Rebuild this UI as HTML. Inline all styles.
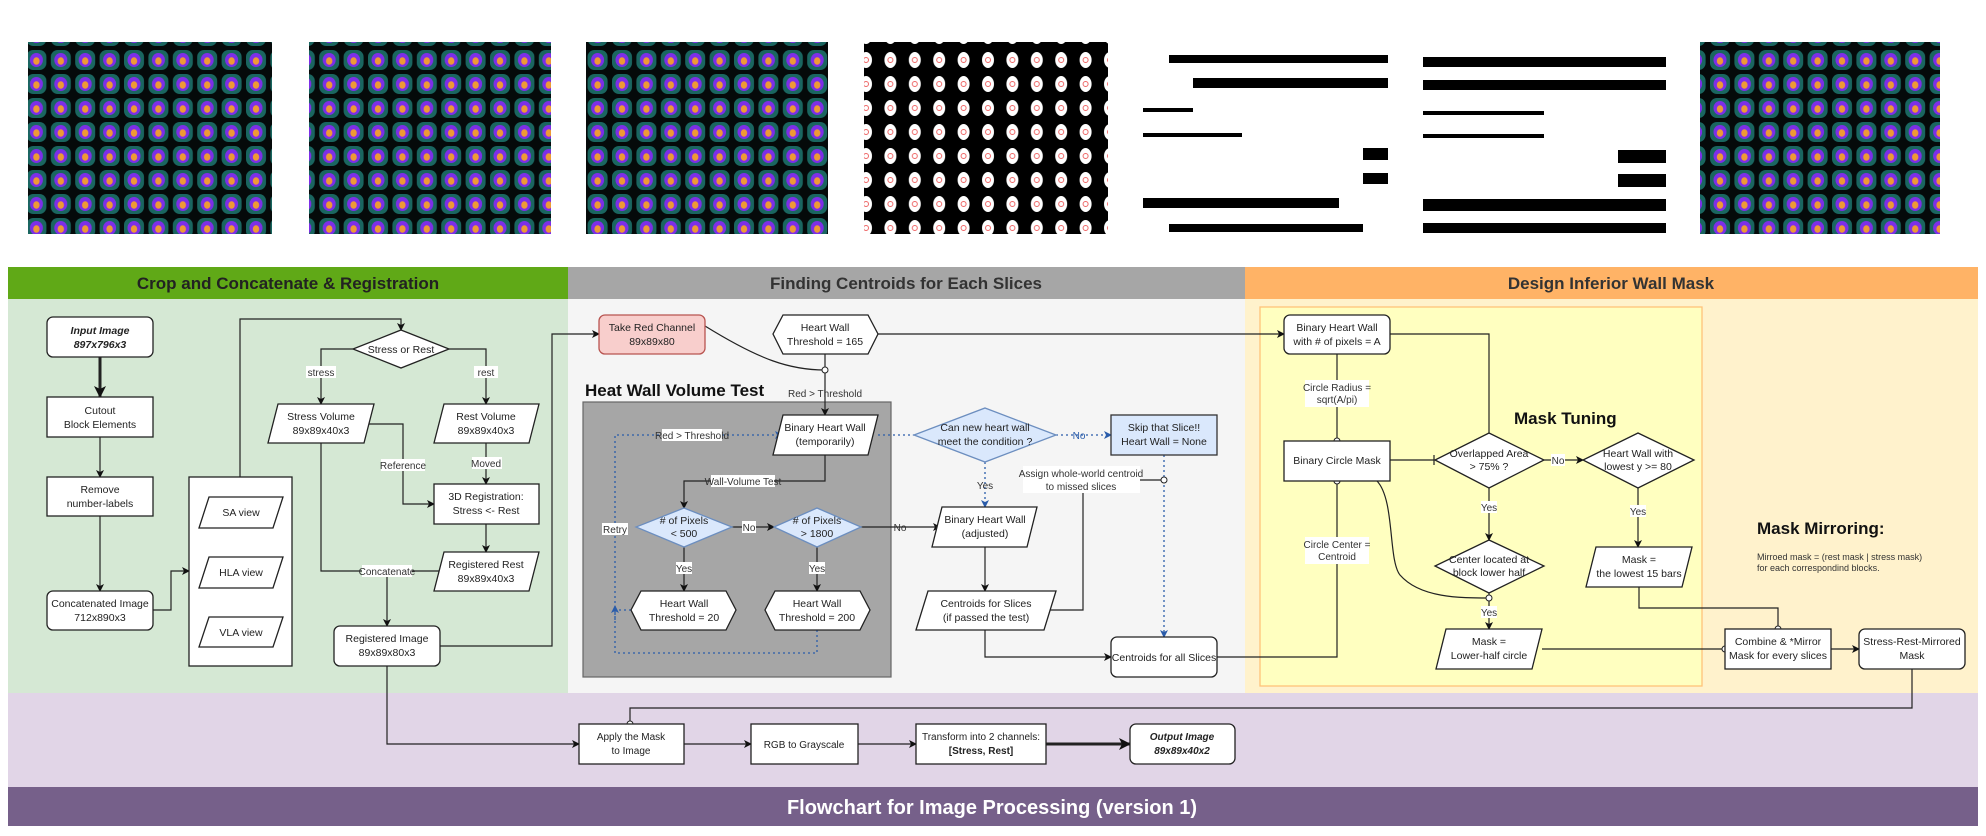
<!DOCTYPE html>
<html><head><meta charset="utf-8"><style>
html,body{margin:0;padding:0;background:#fff;}
svg{display:block;}
text{font-family:"Liberation Sans",sans-serif;}
.t{font-size:10.5px;text-anchor:middle;fill:#222;}
.l{font-size:10px;text-anchor:middle;fill:#333;}
.h{font-size:17px;font-weight:bold;text-anchor:middle;fill:#222;}
.e{fill:none;stroke:#222;stroke-width:1.2;}
.d{fill:none;stroke:#2a5caa;stroke-width:1.3;stroke-dasharray:2,3;}
.n{fill:#fff;stroke:#222;stroke-width:1.3;}
.lb{fill:#fff;}
</style></head><body>
<svg width="1986" height="836" viewBox="0 0 1986 836" xmlns="http://www.w3.org/2000/svg">
<defs>
<marker id="a" markerWidth="8" markerHeight="8" refX="7" refY="4" orient="auto" markerUnits="userSpaceOnUse"><path d="M0,0 L8,4 L0,8 L2,4z" fill="#111"/></marker>
<marker id="ab" markerWidth="8" markerHeight="8" refX="7" refY="4" orient="auto" markerUnits="userSpaceOnUse"><path d="M0,0 L8,4 L0,8 L2,4z" fill="#2a5caa"/></marker>
<marker id="at" markerWidth="12" markerHeight="12" refX="11" refY="6" orient="auto" markerUnits="userSpaceOnUse"><path d="M0,0 L12,6 L0,12 L3,6z" fill="#111"/></marker>
<pattern id="heart" width="24.4" height="24" patternUnits="userSpaceOnUse">
<rect width="24.4" height="24" fill="#050a0a"/><rect x="2" y="2" width="20" height="20" rx="7" fill="#1a6660"/><ellipse cx="12" cy="12" rx="6.5" ry="7" fill="#7d2ee8"/><ellipse cx="12" cy="13" rx="3.2" ry="3.8" fill="#ee9a35"/></pattern>
<pattern id="bin" width="24.4" height="24" patternUnits="userSpaceOnUse">
<rect width="24.4" height="24" fill="#000"/><ellipse cx="12" cy="12" rx="6" ry="8" fill="#fff"/><circle cx="12" cy="12" r="2.5" fill="none" stroke="#e66" stroke-width="1"/></pattern>
</defs>

<rect x="28" y="42" width="244" height="192" fill="url(#heart)"/>
<rect x="309" y="42" width="242" height="192" fill="url(#heart)"/>
<rect x="586" y="42" width="242" height="192" fill="url(#heart)"/>
<rect x="864" y="42" width="244" height="192" fill="url(#bin)"/>
<g fill="#000">
<rect x="1169" y="55" width="219" height="8"/><rect x="1193" y="78" width="195" height="10"/><rect x="1143" y="108" width="50" height="4"/><rect x="1143" y="133" width="99" height="4"/><rect x="1363" y="148" width="25" height="12"/><rect x="1363" y="173" width="25" height="11"/><rect x="1143" y="198" width="196" height="10"/><rect x="1169" y="224" width="194" height="8"/>
<rect x="1423" y="57" width="243" height="10"/><rect x="1423" y="80" width="243" height="10"/><rect x="1423" y="111" width="121" height="4"/><rect x="1423" y="134" width="121" height="4"/><rect x="1618" y="150" width="48" height="13"/><rect x="1618" y="174" width="48" height="13"/><rect x="1423" y="199" width="243" height="12"/><rect x="1423" y="223" width="243" height="10"/>
</g>
<rect x="1700" y="42" width="240" height="192" fill="url(#heart)"/>

<rect x="8" y="267" width="560" height="32" fill="#60a917"/>
<rect x="568" y="267" width="677" height="32" fill="#a6a6a6"/>
<rect x="1245" y="267" width="733" height="32" fill="#ffb366"/>
<rect x="8" y="299" width="560" height="394" fill="#d5e8d4"/>
<rect x="568" y="299" width="677" height="394" fill="#f5f5f5"/>
<rect x="1245" y="299" width="733" height="394" fill="#fff2cc"/>
<rect x="1260" y="307" width="442" height="379" fill="#ffffc0" stroke="#ffc27a" stroke-width="1.3"/>
<rect x="8" y="693" width="1970" height="94" fill="#e1d5e7"/>
<rect x="8" y="787" width="1970" height="39" fill="#76608a"/>
<text class="h" x="288" y="289">Crop and Concatenate &amp; Registration</text>
<text class="h" x="906" y="289" style="fill:#333">Finding Centroids for Each Slices</text>
<text class="h" x="1611" y="289" style="fill:#333">Design Inferior Wall Mask</text>
<text x="992" y="814" style="font-size:20px;font-weight:bold;fill:#fff;text-anchor:middle">Flowchart for Image Processing (version 1)</text>

<rect x="583" y="402" width="308" height="275" fill="#a6a6a6" stroke="#666" stroke-width="1.2"/>
<text x="585" y="396" style="font-size:17px;font-weight:bold;fill:#111">Heat Wall Volume Test</text>
<text x="1514" y="424" style="font-size:17px;font-weight:bold;fill:#111">Mask Tuning</text>
<text x="1757" y="534" style="font-size:17px;font-weight:bold;fill:#111">Mask Mirroring:</text>
<text x="1757" y="560" style="font-size:9px;fill:#333">Mirroed mask = (rest mask | stress mask)</text>
<text x="1757" y="571" style="font-size:9px;fill:#333">for each correspondind blocks.</text>

<g class="e">
<path d="M100,357 V397" style="stroke-width:3" marker-end="url(#at)"/>
<path d="M100,437 V477" marker-end="url(#a)"/>
<path d="M100,516 V591" marker-end="url(#a)"/>
<path d="M153,610 H171 V571 H189" marker-end="url(#a)"/>
<path d="M240,477 V319 H401 V330" marker-end="url(#a)"/>
<path d="M353,349 H321 V404" marker-end="url(#a)"/>
<path d="M449,349 H486 V404" marker-end="url(#a)"/>
<path d="M486,443 V484" marker-end="url(#a)"/>
<path d="M368,424 H403 V504 H434" marker-end="url(#a)"/>
<path d="M486,524 V552" marker-end="url(#a)"/>
<path d="M321,443 V571 H440"/>
<path d="M387,571 V626" marker-end="url(#a)"/>
<path d="M440,646 H552 V334 H599" marker-end="url(#a)"/>
<path d="M387,666 V744 H579" marker-end="url(#a)"/>
<path d="M705,326 C760,360 790,370 825,370"/>
<path d="M825,354 V415" marker-end="url(#a)"/>
<path d="M878,334 H1284" marker-end="url(#a)"/>
<path d="M825,455 V481 H684 V508" marker-end="url(#a)"/>
<path d="M732,527 H774" marker-end="url(#a)"/>
<path d="M861,527 H940" marker-end="url(#a)"/>
<path d="M684,547 V591" marker-end="url(#a)"/>
<path d="M817,547 V591" marker-end="url(#a)"/>
<path d="M985,547 V591" marker-end="url(#a)"/>
<path d="M1050,610 H1083 V490"/>
<path d="M985,630 V657 H1111" marker-end="url(#a)"/>
<path d="M1217,657 H1337 V481"/>
<path d="M1337,354 V441"/>
<path d="M1390,334 H1489 V433"/>
<path d="M1390,460 H1435"/>
<path d="M1544,460 H1583" marker-end="url(#a)"/>
<path d="M1489,488 V540" marker-end="url(#a)"/>
<path d="M1489,593 V629" marker-end="url(#a)"/>
<path d="M1377,481 C1395,500 1388,560 1400,575 C1420,598 1460,598 1489,598"/>
<path d="M1638,488 V547" marker-end="url(#a)"/>
<path d="M1639,587 V608 H1778 V629"/>
<path d="M1542,649 H1725"/>
<path d="M1831,649 H1859" marker-end="url(#a)"/>
<path d="M1912,669 V708 H630 V724"/>
<path d="M684,744 H751" marker-end="url(#a)"/>
<path d="M858,744 H916" marker-end="url(#a)"/>
<path d="M1046,744 H1130" style="stroke-width:3" marker-end="url(#at)"/>
<path d="M1434,455 V465"/>
</g>
<g class="d">
<path d="M817,630 V653 H615 V435 H782" marker-end="url(#ab)"/>
<path d="M631,610 H615"/>
<path d="M615,620 V606" marker-end="url(#ab)"/>
<path d="M878,435 H914"/>
<path d="M1056,435 H1111" marker-end="url(#ab)"/>
<path d="M985,462 V507" marker-end="url(#ab)"/>
<path d="M1164,455 V637" marker-end="url(#ab)"/>
</g>
<path d="M1140,480 H1164" class="e"/>
<g fill="#fff" stroke="#222" stroke-width="1">
<circle cx="825" cy="370" r="3"/><circle cx="1164" cy="480" r="3"/><circle cx="1337" cy="481" r="3"/><circle cx="1337" cy="441" r="3"/>
<circle cx="1489" cy="598" r="3"/><circle cx="1778" cy="629" r="3"/><circle cx="1725" cy="649" r="3"/><circle cx="630" cy="724" r="3"/>
</g>

<g>
<rect class="lb" x="306" y="366" width="30" height="12"/><text class="l" x="321" y="376">stress</text>
<rect class="lb" x="474" y="366" width="24" height="12"/><text class="l" x="486" y="376">rest</text>
<rect class="lb" x="472" y="457" width="30" height="12"/><text class="l" x="486" y="467">Moved</text>
<rect class="lb" x="381" y="459" width="44" height="12"/><text class="l" x="403" y="469">Reference</text>
<rect class="lb" x="362" y="565" width="50" height="12"/><text class="l" x="387" y="575">Concatenate</text>
<text class="l" x="825" y="397">Red &gt; Threshold</text>
<rect class="lb" x="711" y="475" width="64" height="12"/><text class="l" x="743" y="485">Wall-Volume Test</text>
<rect class="lb" x="742" y="521" width="14" height="12"/><text class="l" x="749" y="531">No</text>
<text class="l" x="900" y="531">No</text>
<rect class="lb" x="676" y="562" width="16" height="12"/><text class="l" x="684" y="572">Yes</text>
<rect class="lb" x="809" y="562" width="16" height="12"/><text class="l" x="817" y="572">Yes</text>
<rect class="lb" x="602" y="523" width="26" height="12"/><text class="l" x="615" y="533">Retry</text>
<rect class="lb" x="662" y="429" width="60" height="12"/><text class="l" x="692" y="439">Red &gt; Threshold</text>
<text class="l" x="1079" y="439" style="fill:#2a5caa">No</text>
<text class="l" x="985" y="489">Yes</text>
<rect class="lb" x="1023" y="466" width="117" height="27"/><text class="l" x="1081" y="477">Assign whole-world centroid</text><text class="l" x="1081" y="490">to missed slices</text>
<rect class="lb" x="1305" y="380" width="64" height="27"/><text class="l" x="1337" y="391">Circle Radius =</text><text class="l" x="1337" y="403">sqrt(A/pi)</text>
<rect class="lb" x="1305" y="537" width="64" height="27"/><text class="l" x="1337" y="548">Circle Center =</text><text class="l" x="1337" y="560">Centroid</text>
<rect class="lb" x="1551" y="454" width="14" height="12"/><text class="l" x="1558" y="464">No</text>
<rect class="lb" x="1481" y="501" width="16" height="12"/><text class="l" x="1489" y="511">Yes</text>
<rect class="lb" x="1481" y="606" width="16" height="12"/><text class="l" x="1489" y="616">Yes</text>
<rect class="lb" x="1630" y="505" width="16" height="12"/><text class="l" x="1638" y="515">Yes</text>
</g>

<g>
<rect class="n" x="47" y="317" width="106" height="40" rx="6"/>
<text class="t" x="100" y="334" style="font-weight:bold;font-style:italic">Input Image</text><text class="t" x="100" y="348" style="font-weight:bold;font-style:italic">897x796x3</text>
<rect class="n" x="47" y="397" width="106" height="40"/>
<text class="t" x="100" y="414">Cutout</text><text class="t" x="100" y="428">Block Elements</text>
<rect class="n" x="47" y="477" width="106" height="39"/>
<text class="t" x="100" y="493">Remove</text><text class="t" x="100" y="507">number-labels</text>
<rect class="n" x="47" y="591" width="106" height="39" rx="6"/>
<text class="t" x="100" y="607">Concatenated Image</text><text class="t" x="100" y="621">712x890x3</text>
<rect class="n" x="189" y="477" width="103" height="189"/>
<polygon class="n" points="209,497 283,497 273,528 199,528"/><text class="t" x="241" y="516">SA view</text>
<polygon class="n" points="209,557 283,557 273,588 199,588"/><text class="t" x="241" y="576">HLA view</text>
<polygon class="n" points="209,617 283,617 273,647 199,647"/><text class="t" x="241" y="636">VLA view</text>
<polygon class="n" points="401,330 449,349 401,368 353,349"/><text class="t" x="401" y="353">Stress or Rest</text>
<polygon class="n" points="278,404 374,404 364,443 268,443"/><text class="t" x="321" y="420">Stress Volume</text><text class="t" x="321" y="434">89x89x40x3</text>
<polygon class="n" points="444,404 539,404 529,443 434,443"/><text class="t" x="486" y="420">Rest Volume</text><text class="t" x="486" y="434">89x89x40x3</text>
<rect class="n" x="434" y="484" width="105" height="40"/><text class="t" x="486" y="500">3D Registration:</text><text class="t" x="486" y="514">Stress &lt;- Rest</text>
<polygon class="n" points="444,552 539,552 529,591 434,591"/><text class="t" x="486" y="568">Registered Rest</text><text class="t" x="486" y="582">89x89x40x3</text>
<rect class="n" x="334" y="626" width="106" height="40" rx="6"/><text class="t" x="387" y="642">Registered Image</text><text class="t" x="387" y="656">89x89x80x3</text>

<rect x="599" y="315" width="106" height="39" rx="6" fill="#f8cecc" stroke="#b85450" stroke-width="1.3"/><text class="t" x="652" y="331">Take Red Channel</text><text class="t" x="652" y="345">89x89x80</text>
<polygon class="n" points="783,315 868,315 878,334 868,354 783,354 773,334"/><text class="t" x="825" y="331">Heart Wall</text><text class="t" x="825" y="345">Threshold = 165</text>
<polygon class="n" points="783,415 878,415 868,455 773,455"/><text class="t" x="825" y="431">Binary Heart Wall</text><text class="t" x="825" y="445">(temporarily)</text>
<polygon points="985,408 1056,435 985,462 914,435" fill="#dae8fc" stroke="#6c8ebf" stroke-width="1.3"/><text class="t" x="985" y="431">Can new heart wall</text><text class="t" x="985" y="445">meet the condition ?</text>
<rect x="1111" y="415" width="106" height="40" fill="#dae8fc" stroke="#333" stroke-width="1.3"/><text class="t" x="1164" y="431">Skip that Slice!!</text><text class="t" x="1164" y="445">Heart Wall = None</text>
<polygon points="684,508 732,527 684,547 636,527" fill="#dae8fc" stroke="#6c8ebf" stroke-width="1.3"/><text class="t" x="684" y="524">#  of Pixels</text><text class="t" x="684" y="537">&lt; 500</text>
<polygon points="817,508 861,527 817,547 774,527" fill="#dae8fc" stroke="#6c8ebf" stroke-width="1.3"/><text class="t" x="817" y="524">#  of Pixels</text><text class="t" x="817" y="537">&gt; 1800</text>
<polygon class="n" points="641,591 726,591 736,610 726,630 641,630 631,610"/><text class="t" x="684" y="607">Heart Wall</text><text class="t" x="684" y="621">Threshold = 20</text>
<polygon class="n" points="775,591 860,591 870,610 860,630 775,630 765,610"/><text class="t" x="817" y="607">Heart Wall</text><text class="t" x="817" y="621">Threshold = 200</text>
<polygon class="n" points="942,507 1037,507 1027,547 932,547"/><text class="t" x="985" y="523">Binary Heart Wall</text><text class="t" x="985" y="537">(adjusted)</text>
<polygon class="n" points="928,591 1056,591 1044,630 916,630"/><text class="t" x="986" y="607">Centroids for Slices</text><text class="t" x="986" y="621">(if passed the test)</text>
<rect class="n" x="1111" y="637" width="106" height="40" rx="6"/><text class="t" x="1164" y="661">Centroids for all Slices</text>

<rect class="n" x="1284" y="315" width="106" height="39" rx="6"/><text class="t" x="1337" y="331">Binary Heart Wall</text><text class="t" x="1337" y="345">with # of pixels = A</text>
<rect class="n" x="1284" y="441" width="106" height="40"/><text class="t" x="1337" y="464">Binary Circle Mask</text>
<polygon class="n" points="1489,433 1544,460 1489,488 1435,460"/><text class="t" x="1489" y="457">Overlapped Area</text><text class="t" x="1489" y="470">&gt; 75% ?</text>
<polygon class="n" points="1638,433 1694,460 1638,488 1583,460"/><text class="t" x="1638" y="457">Heart Wall with</text><text class="t" x="1638" y="470">lowest y &gt;= 80</text>
<polygon class="n" points="1489,540 1544,566 1489,593 1435,566"/><text class="t" x="1489" y="563">Center located at</text><text class="t" x="1489" y="576">block lower half</text>
<polygon class="n" points="1596,547 1692,547 1682,587 1586,587"/><text class="t" x="1639" y="563">Mask =</text><text class="t" x="1639" y="577">the lowest 15 bars</text>
<polygon class="n" points="1446,629 1542,629 1532,669 1436,669"/><text class="t" x="1489" y="645">Mask =</text><text class="t" x="1489" y="659">Lower-half circle</text>
<rect class="n" x="1725" y="629" width="106" height="40"/><text class="t" x="1778" y="645">Combine &amp; *Mirror</text><text class="t" x="1778" y="659">Mask for every slices</text>
<rect class="n" x="1859" y="629" width="106" height="40" rx="6"/><text class="t" x="1912" y="645">Stress-Rest-Mirrored</text><text class="t" x="1912" y="659">Mask</text>

<rect class="n" x="579" y="724" width="105" height="40"/><text class="t" x="631" y="740" style="font-size:10px">Apply the Mask</text><text class="t" x="631" y="754" style="font-size:10px">to Image</text>
<rect class="n" x="751" y="724" width="107" height="40"/><text class="t" x="804" y="748" style="font-size:10px">RGB to Grayscale</text>
<rect class="n" x="916" y="724" width="130" height="40"/><text class="t" x="981" y="740" style="font-size:10px">Transform into 2 channels:</text><text class="t" x="981" y="754" style="font-size:10px;font-weight:bold">[Stress, Rest]</text>
<rect class="n" x="1130" y="724" width="105" height="40" rx="6"/><text class="t" x="1182" y="740" style="font-size:10px;font-weight:bold;font-style:italic">Output Image</text><text class="t" x="1182" y="754" style="font-size:10px;font-weight:bold;font-style:italic">89x89x40x2</text>
</g>
</svg>
</body></html>
